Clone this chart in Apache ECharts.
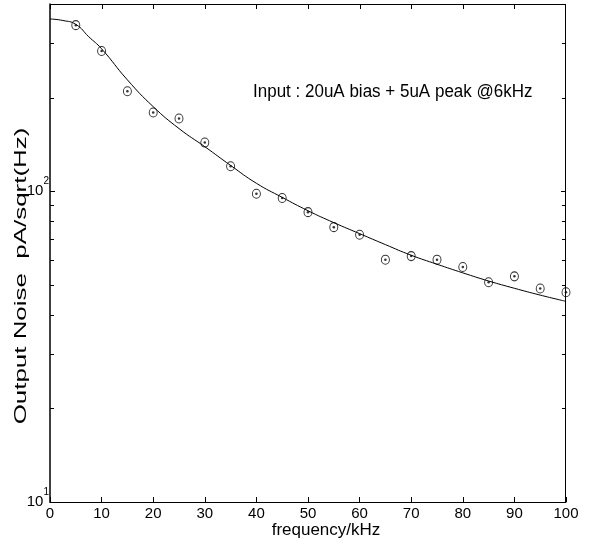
<!DOCTYPE html>
<html>
<head>
<meta charset="utf-8">
<script src="https://cdn.jsdelivr.net/npm/echarts@6/dist/echarts.min.js"></script>
<style>
  html, body { margin: 0; padding: 0; background: #fff; }
  #chart { width: 591px; height: 546px; }
</style>
</head>
<body>
<div id="chart"></div>
<script>
// measured points (frequency in kHz, noise in pA/sqrt(Hz))
var freq = [5, 10, 15, 20, 25, 30, 35, 40, 45, 50, 55, 60, 65, 70, 75, 80, 85, 90, 95, 100];
var measured = [342, 282.5, 209.5, 179, 171.2, 143.3, 120.3, 98.1, 95.1, 85.6, 76.6, 72.4, 60.2, 61.8, 60.2, 57.0, 50.9, 53.2, 48.6, 47.3];

// fitted curve
var fitFreq = [0, 2.5, 5, 7.5, 10, 15, 20, 25, 30, 35, 40, 45, 50, 55, 60, 65, 70, 75, 80, 85, 90, 95, 100];
var fitNoise = [358, 354, 344, 314, 287, 228, 187, 159, 139, 121, 106, 95.5, 86.5, 79.2, 73, 67.3, 62.2, 58.2, 54.6, 51.4, 48.7, 46.3, 44.2];

var xTicks = [0, 10, 20, 30, 40, 50, 60, 70, 80, 90, 100];
var yTicks = [10, 20, 30, 40, 50, 60, 70, 80, 90, 100, 200, 300];

var font = 'Liberation Sans, Arial, Helvetica, sans-serif';
var ink = '#000';
var X_MIN = 0, X_MAX = 100, Y_MIN = 10, Y_MAX = 400;
var G = { left: 50, right: 25, top: 4, bottom: 44 };

var chart = echarts.init(document.getElementById('chart'), null, { renderer: 'canvas' });

function pairs(xs, ys) {
  return xs.map(function(x, i) { return [x, ys[i]]; });
}

function yLabel(v) {
  var p = Math.round(Math.log(v) / Math.LN10);
  if (Math.abs(Math.pow(10, p) - v) > 1e-6 * v) return '';
  return '{b|10}{s|' + p + '}';
}

// filled 1px bars instead of stroked lines
function bar(x, y, w, h) {
  return { type: 'rect', silent: true, z: 100, shape: { x: x, y: y, width: w, height: h }, style: { fill: ink } };
}

chart.setOption({
  animation: false,
  backgroundColor: '#fff',
  grid: { left: G.left, right: G.right, top: G.top, bottom: G.bottom, containLabel: false },
  xAxis: {
    type: 'value', min: X_MIN, max: X_MAX, interval: 10, position: 'bottom',
    axisLine: { onZero: false, lineStyle: { color: ink, width: 1 } },
    axisTick: { inside: true, length: 5, lineStyle: { color: ink } },
    axisLabel: { color: ink, fontSize: 15, fontFamily: font, margin: 4 },
    splitLine: { show: false }
  },
  yAxis: {
    type: 'log', logBase: 10, min: Y_MIN, max: Y_MAX, position: 'left',
    axisLine: { show: true, onZero: false, lineStyle: { color: ink, width: 1.5 } },
    axisTick: { show: false },
    axisLabel: {
      color: ink, margin: 1, formatter: yLabel,
      rich: {
        b: { fontSize: 15, fontFamily: font, color: ink, lineHeight: 15 },
        s: { fontSize: 10, fontFamily: font, color: ink, lineHeight: 10, padding: [0, 0, 20, 0] }
      }
    },
    splitLine: { show: false }
  },
  series: [{
    name: 'fit', type: 'line', smooth: true, showSymbol: false,
    data: pairs(fitFreq, fitNoise),
    lineStyle: { color: ink, width: 1 },
    z: 3
  }, {
    name: 'measured', type: 'scatter', symbol: 'circle', symbolSize: [8, 9],
    data: pairs(freq, measured),
    itemStyle: { color: 'rgba(0,0,0,0)', borderColor: ink, borderWidth: 1 },
    z: 4
  }, {
    name: 'dots', type: 'scatter', symbol: 'circle', symbolSize: 2.5,
    data: pairs(freq, measured),
    itemStyle: { color: ink },
    z: 5
  }]
});

// frame and inward ticks on all four sides, placed through the chart's own scales
var chartW = chart.getWidth(), chartH = chart.getHeight();
var gTop = G.top, gRight = chartW - G.right - 1, gLeft = G.left, gBottom = chartH - G.bottom;
var frameParts = [
  bar(gLeft, gTop, gRight - gLeft + 1, 1),
  bar(gRight, gTop, 1, gBottom - gTop + 1)
];
xTicks.forEach(function(v) {
  var x = Math.round(chart.convertToPixel({ xAxisIndex: 0 }, v));
  if (v === X_MAX) x = gRight;
  frameParts.push(bar(x, gTop, 1, 5));
});
yTicks.forEach(function(v) {
  var y = Math.round(chart.convertToPixel({ yAxisIndex: 0 }, v));
  var len = (v === 10 || v === 100) ? 5 : 4;
  frameParts.push(bar(gLeft, y, len, 1));
  frameParts.push(bar(gRight - len + 1, y, len, 1));
});

chart.setOption({
  graphic: frameParts.concat([{
    type: 'text', x: 253, y: 92,
    style: { text: 'Input : 20uA bias + 5uA peak @6kHz', fontSize: 17, fontFamily: font, fill: ink, align: 'left', verticalAlign: 'middle' },
    scaleY: 1.1
  }, {
    type: 'text', x: 326, y: 530,
    style: { text: 'frequency/kHz', fontSize: 17, fontFamily: font, fill: ink, align: 'center', verticalAlign: 'middle' }
  }, {
    type: 'text', x: 22, y: 276, rotation: Math.PI / 2,
    style: { text: 'Output Noise  pA/sqrt(Hz)', fontSize: 16, fontFamily: font, fill: ink, align: 'center', verticalAlign: 'middle' },
    scaleX: 1.62
  }])
});
window.addEventListener('resize', function() { chart.resize(); });
</script>
</body>
</html>
